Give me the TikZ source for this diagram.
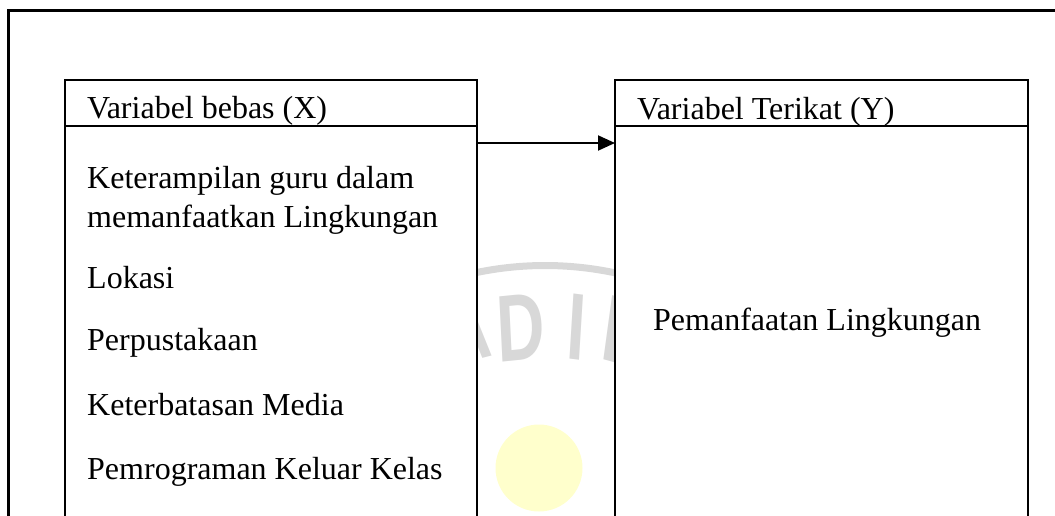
\documentclass[tikz,border=0pt]{standalone}
\usepackage{fontspec}
\setmainfont{Liberation Serif}
\newfontfamily\marksans{Liberation Sans}
\usetikzlibrary{arrows.meta}

\definecolor{markgray}{RGB}{216,216,216}
\definecolor{markyellow}{RGB}{255,255,204}

\begin{document}
\begin{tikzpicture}[x=1pt, y=-1pt, >={Triangle[length=17pt,width=15pt]}, % pixel grid, y downwards
    box/.style={rectangle, draw, line width=2pt, fill=white, inner sep=0pt, outer sep=0pt},
    entry/.style={anchor=base west, inner sep=0pt, align=left, font=\fontsize{32}{39}\selectfont},
    markletter/.style={anchor=base, inner sep=0pt, text=markgray, xscale=0.7, font=\marksans\bfseries\fontsize{95}{95}\selectfont}]

    \clip (0,0) rectangle (1055,515);

    % Watermark first (the boxes cover most of it)
    \fill[markyellow] (539,468) circle (43.5pt);
    \draw[markgray, line width=7pt] (440,282) .. controls (510,260) and (580,260) .. (650,282);
    \node[markletter, rotate=10] (markA) at (470,362) {A};
    \node[markletter, rotate=4] (markD) at (522,360) {D};
    \node[markletter, rotate=-5] (markI) at (575,360) {I};
    \node[markletter, rotate=-11] (markL) at (619,364) {L};

    % Outer frame, open to the right and to the bottom
    \draw[line width=3pt] (8,540) -- (8,10) -- (1070,10);

    % Variable boxes
    \node[box, minimum width=412pt, minimum height=46pt] (xhead) at (271,103) {};
    \node[box, minimum width=412pt, minimum height=414pt] (xbody) at (271,333) {};
    \node[box, minimum width=413pt, minimum height=46pt] (yhead) at (821.5,103) {};
    \node[box, minimum width=413pt, minimum height=414pt] (ybody) at (821.5,333) {};

    % Texts (base of a two-line entry is its last line)
    \node[entry] (xtitle) at (87,118) {Variabel bebas (X)};
    \node[entry] (ytitle) at (637,119) {Variabel Terikat (Y)};
    \node[entry] (skill) at (87,227) {Keterampilan guru dalam\\memanfaatkan Lingkungan};
    \node[entry] (location) at (87,288) {Lokasi};
    \node[entry] (library) at (87,350) {Perpustakaan};
    \node[entry] (media) at (87,415) {Keterbatasan Media};
    \node[entry] (program) at (87,479) {Pemrograman Keluar Kelas};
    \node[entry] (usage) at (653,330) {Pemanfaatan Lingkungan};

    % Influence arrow X -> Y
    \coordinate (arrowlevel) at (0,143);
    \draw[->, line width=2pt] (xbody.east |- arrowlevel) -- (ybody.west |- arrowlevel);
\end{tikzpicture}
\end{document}
